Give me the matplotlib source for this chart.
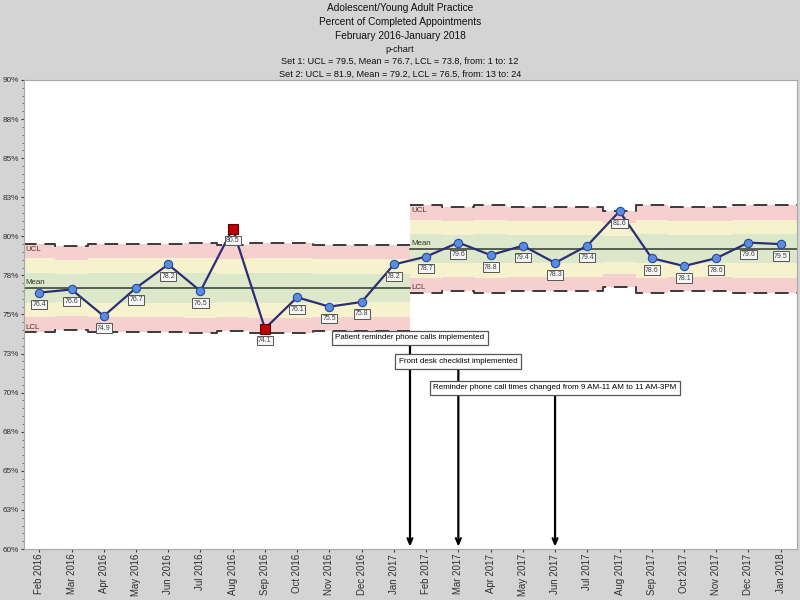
import matplotlib
matplotlib.use("Agg")
import matplotlib.pyplot as plt
import numpy as np

# ---- data ----
months = ["Feb 2016", "Mar 2016", "Apr 2016", "May 2016", "Jun 2016", "Jul 2016",
          "Aug 2016", "Sep 2016", "Oct 2016", "Nov 2016", "Dec 2016", "Jan 2017",
          "Feb 2017", "Mar 2017", "Apr 2017", "May 2017", "Jun 2017", "Jul 2017",
          "Aug 2017", "Sep 2017", "Oct 2017", "Nov 2017", "Dec 2017", "Jan 2018"]
values = [76.4, 76.6, 74.9, 76.7, 78.2, 76.5, 80.5, 74.1, 76.1, 75.5, 75.8, 78.2,
          78.7, 79.6, 78.8, 79.4, 78.3, 79.4, 81.6, 78.6, 78.1, 78.6, 79.6, 79.5]
flagged = [6, 7]  # Aug 2016, Sep 2016
set1_mean = 76.7
set2_mean = 79.2
# 3-sigma half widths per point (step limits)
set1_width = [2.83, 2.68, 2.83, 2.83, 2.83, 2.90, 2.76, 2.87, 2.87, 2.76, 2.76, 2.76]
set2_width = [2.80, 2.70, 2.80, 2.70, 2.70, 2.70, 2.45, 2.80, 2.70, 2.70, 2.80, 2.80]
title_lines = ["Adolescent/Young Adult Practice",
               "Percent of Completed Appointments",
               "February 2016-January 2018"]
sub_lines = ["p-chart",
             "Set 1: UCL = 79.5, Mean = 76.7, LCL = 73.8, from: 1 to: 12",
             "Set 2: UCL = 81.9, Mean = 79.2, LCL = 76.5, from: 13 to: 24"]
ytick_vals = [60, 62.5, 65, 67.5, 70, 72.5, 75, 77.5, 80, 82.5, 85, 87.5, 90]
ytick_labels = ["60%", "63%", "65%", "68%", "70%", "73%", "75%", "78%", "80%",
                "83%", "85%", "88%", "90%"]
ann_text = ["Patient reminder phone calls implemented",
            "Front desk checklist implemented",
            "Reminder phone call times changed from 9 AM-11 AM to 11 AM-3PM"]
ann_x = [11.5, 13, 16]
ann_y = [73.5, 72.0, 70.3]

plt.rcParams['font.family'] = ['Liberation Sans', 'DejaVu Sans']

fig = plt.figure(figsize=(8, 6), dpi=100, facecolor='#d4d4d4')
ax = fig.add_axes([0.03, 0.085, 0.966, 0.7817])
ax.set_facecolor('white')

PINK = '#f6cfcf'
YEL = '#f5f2cd'
GRN = '#dde8cb'

def draw_set(start, mean, widths):
    n = len(widths)
    w = np.array(widths + [widths[-1]])
    xe = np.arange(n + 1) + start - 0.5
    sig = w / 3.0
    bands = [(2, 3, PINK), (1, 2, YEL), (0, 1, GRN)]
    for lo, hi, c in bands:
        ax.fill_between(xe, mean + lo * sig, mean + hi * sig, step='post',
                        color=c, lw=0, zorder=1)
        ax.fill_between(xe, mean - hi * sig, mean - lo * sig, step='post',
                        color=c, lw=0, zorder=1)
    ax.plot(xe, mean + w, drawstyle='steps-post', color='#3a3a3a', lw=1.4,
            dashes=(7, 4), zorder=2)
    ax.plot(xe, mean - w, drawstyle='steps-post', color='#3a3a3a', lw=1.4,
            dashes=(7, 4), zorder=2)
    ax.plot([xe[0], xe[-1]], [mean, mean], color='#2f3a2f', lw=1.1, zorder=2)
    x0 = max(xe[0], -0.47) + 0.05
    ax.text(x0, mean + w[0] - 0.12, "UCL", fontsize=5.7, color='#4a3a30',
            va='top', ha='left', zorder=3)
    ax.text(x0, mean + 0.1, "Mean", fontsize=5.7, color='#2a3a2a',
            va='bottom', ha='left', zorder=3)
    ax.text(x0, mean - w[0] + 0.1, "LCL", fontsize=5.7, color='#4a3a30',
            va='bottom', ha='left', zorder=3)

draw_set(0, set1_mean, set1_width)
draw_set(12, set2_mean, set2_width)

x = np.arange(len(values))
ax.plot(x, values, color='#2c2f74', lw=1.6, zorder=4)
normal = [i for i in x if i not in flagged]
ax.plot(normal, [values[i] for i in normal], 'o', ms=6, mfc='#5b8ce0',
        mec='#2a4a9a', mew=0.8, zorder=5)
ax.plot(flagged, [values[i] for i in flagged], 's', ms=6.5, mfc='#c00000',
        mec='#5a0000', mew=0.8, zorder=5)

for i, v in enumerate(values):
    ax.annotate(f"{v:.1f}", (i, v), xytext=(0, -12), textcoords='offset pixels',
                ha='center', va='center', fontsize=5.0, color='#404040',
                bbox=dict(boxstyle='square,pad=0.18', fc='#f6f6f6', ec='#555555',
                          lw=0.7), zorder=6)

for t, xa, ya in zip(ann_text, ann_x, ann_y):
    ax.annotate(t, xy=(xa, 60.15), xytext=(xa, ya), ha='center', va='center',
                fontsize=5.8, color='black',
                bbox=dict(boxstyle='square,pad=0.45', fc='white', ec='#555555',
                          lw=0.9),
                arrowprops=dict(arrowstyle='->,head_length=0.7,head_width=0.3',
                                color='black', lw=1.6, shrinkA=0, shrinkB=0),
                zorder=7)

ax.set_xlim(-0.475, 23.5)
ax.set_ylim(60, 90)
ax.set_xticks(x)
ax.set_xticklabels(months, rotation=90, fontsize=6.9, color='#303030')
ax.set_yticks(ytick_vals)
ax.set_yticklabels(ytick_labels, fontsize=5.9, color='#303030')
ax.set_yticks(np.arange(60, 90.01, 0.5), minor=True)
ax.tick_params(axis='both', which='major', direction='out', length=2.5,
               color='#404040', width=0.8, pad=1)
ax.tick_params(axis='y', which='minor', direction='out', length=1.5,
               color='#606060', width=0.6)
for s in ax.spines.values():
    s.set_color('#a8a8a8')
    s.set_linewidth(0.8)

for k, t in enumerate(title_lines):
    fig.text(0.5, 1 - (8 + 14 * k) / 600, t, ha='center', va='center',
             fontsize=7.3, color='#111111', fontstretch='condensed')
for k, t in enumerate(sub_lines):
    fig.text(0.5, 1 - (49 + 12.5 * k) / 600, t, ha='center', va='center',
             fontsize=6.6, color='#111111')

fig.savefig("out.png", dpi=100, facecolor=fig.get_facecolor())
